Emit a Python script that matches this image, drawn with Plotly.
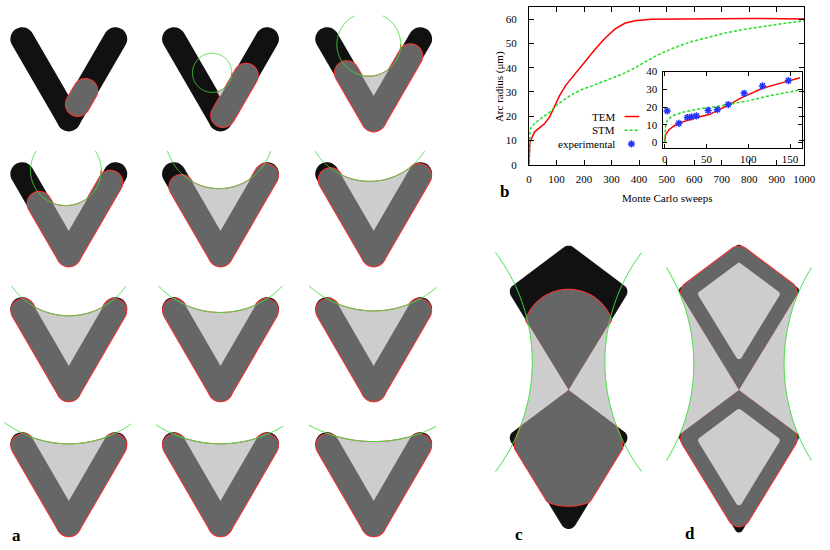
import numpy as np
import plotly.graph_objects as go

# ---------------- panel b: arc radius vs Monte Carlo sweeps ----------------
tem_x = [0, 1, 3, 10, 20, 40, 57, 75, 93, 111, 134, 170, 206, 241, 277, 313, 348, 384, 444, 527, 650, 800, 1000]
tem_y = [0, 5, 9, 11, 13.5, 15.4, 17, 19.7, 23.8, 28.5, 32.8, 37.9, 43, 47.7, 52.2, 56, 58.3, 59.3, 59.9, 60, 60.2, 60.3, 60]

stm_x = [0, 1, 3.6, 9.5, 27, 51, 75, 99, 122, 158, 194, 229, 277, 336, 372, 420, 467, 527, 586, 646, 705, 776, 848, 919, 990, 1000]
stm_y = [0, 8, 14.4, 15.7, 17.7, 19.7, 21.7, 24.4, 26.4, 29.1, 31.1, 32.5, 34.5, 37.2, 39.2, 42.3, 45.2, 48.2, 50.6, 52.3, 54.1, 55.7, 57, 58.1, 59.2, 59.4]

# inset (first 160 sweeps)
tem_in_x = [0, 0.4, 1.2, 5, 11, 18.8, 30.6, 42, 54, 66, 77.6, 89, 101, 117, 140, 162]
tem_in_y = [0, 2.5, 4.4, 7.1, 9.3, 11.2, 13, 14.5, 15.9, 18.5, 21.4, 24.6, 27.3, 30.6, 33.6, 36.5]
stm_in_x = [0, 0.3, 1, 3, 11, 22.7, 42, 62, 81.5, 101, 121, 140, 160]
stm_in_y = [0, 5, 9, 12.6, 15.4, 17.2, 19, 20.3, 21.8, 23.6, 25.9, 27.7, 29.5]
exp_x = [3, 17, 27, 32, 38, 52, 63, 76, 95, 117, 148]
exp_y = [17.8, 10.8, 14.1, 14.5, 15.0, 18.1, 18.5, 21.4, 27.7, 31.9, 34.9]

legend_names = ["TEM", "STM", "experimental"]

# ---------------- panel a: 12 snapshots of the V ----------------
col_x = [67, 221.5, 377.5]
row_y = [116, 254, 392, 530]
wet_left = [(0, 0), (0, 0), (0, 55), (0, 60), (0, 80), (0, 88),
            (0, 93), (0, 93), (0, 93), (0, 93), (0, 93), (0, 93)]
wet_right = [(18, 34), (5, 52), (0, 75), (0, 85), (0, 93), (0, 93),
             (0, 93), (0, 93), (0, 93), (0, 93), (0, 93), (0, 93)]
men_dx = [np.nan, -8.5, -5, -3, -1.5, -4, 0, 0, 0, 0, 0, 0]
men_dy = [np.nan, -47.7, -76.8, -86, -122.3, -140.4, -146.3, -166.1, -177.8, -191.4, -203.1, -222.7]
men_r = [np.nan, 20, 32.5, 36, 55, 65.7, 71, 87.4, 97.5, 109, 120.7, 138]

# ---------------- panels c, d: double kite ----------------
kite_cx = {"c": 576, "d": 749.5}
kite_tops = [243, 392.5]
arc_off = {"c": 223, "d": 235}
arc_cy = {"c": 364, "d": 366}
arc_r = {"c": 186, "d": 189}

W, H = 830, 550
SERIF = "Liberation Serif, DejaVu Serif, serif"
BLACK, DARK, LIGHT = "#111111", "#666666", "#cdcdcd"
RED, GREEN = "#ff3030", "#3fe03f"

ARM_LEN, ARM_HALF, HALF = 95, 12, np.radians(30)
KW, KU, KH = 62.5, 47, 149.5

shapes = []


def path(pts, close=True):
    s = "M " + " L ".join(f"{x:.2f},{y:.2f}" for x, y in pts)
    return s + (" Z" if close else "")


def add(pts, fill=None, line=None, lw=0, close=True):
    shapes.append(dict(type="path", xref="x2", yref="y2", layer="above",
                       path=path(pts, close),
                       fillcolor=fill if fill else "rgba(0,0,0,0)",
                       line=dict(color=line if line else "rgba(0,0,0,0)", width=lw)))


def add_segments(segs, color, lw):
    d = " ".join(path(s, False) for s in segs if len(s) > 1)
    if d:
        shapes.append(dict(type="path", xref="x2", yref="y2", layer="above", path=d,
                           line=dict(color=color, width=lw)))


def capsule(p0, p1, r, n=20):
    p0 = np.asarray(p0, float); p1 = np.asarray(p1, float)
    u = p1 - p0
    u = u / np.hypot(*u)
    v = np.array([-u[1], u[0]])
    s = np.linspace(0, np.pi, n)
    a = p1 + r * (np.outer(np.cos(s), v) + np.outer(np.sin(s), u))
    b = p0 + r * (np.outer(-np.cos(s), v) - np.outer(np.sin(s), u))
    return np.vstack([a, b])


def rounded_poly(pts, radii, n=10):
    pts = np.asarray(pts, float)
    m = len(pts)
    radii = np.broadcast_to(np.asarray(radii, float), (m,))
    out = []
    for i in range(m):
        p, r = pts[i], radii[i]
        if r <= 0:
            out.append(p)
            continue
        a = pts[i - 1] - p; a /= np.linalg.norm(a)
        b = pts[(i + 1) % m] - p; b /= np.linalg.norm(b)
        ang = np.arccos(np.clip(a @ b, -1, 1))
        bis = (a + b) / np.linalg.norm(a + b)
        c = p + bis * r / np.sin(ang / 2)
        t1 = p + a * r / np.tan(ang / 2)
        t2 = p + b * r / np.tan(ang / 2)
        a1 = np.arctan2(t1[1] - c[1], t1[0] - c[0])
        a2 = np.arctan2(t2[1] - c[1], t2[0] - c[0])
        diff = (a2 - a1 + np.pi) % (2 * np.pi) - np.pi
        for s in np.linspace(0, 1, n):
            out.append(c + r * np.array([np.cos(a1 + diff * s), np.sin(a1 + diff * s)]))
    return np.array(out)


def offset_convex(pts, t):
    pts = np.asarray(pts, float)
    c = pts.mean(0)
    m = len(pts)
    lines = []
    for i in range(m):
        p, q = pts[i], pts[(i + 1) % m]
        d = q - p
        nrm = np.array([-d[1], d[0]]) / np.linalg.norm(d)
        if (c - p) @ nrm < 0:
            nrm = -nrm
        lines.append((p + nrm * t, d))
    new = []
    for i in range(m):
        (p1, d1), (p2, d2) = lines[i - 1], lines[i]
        A = np.array([d1, -d2]).T
        a, _ = np.linalg.solve(A, p2 - p1)
        new.append(p1 + a * d1)
    return np.array(new)


def ray_dist(poly, c, d):
    best = np.inf
    m = len(poly)
    for i in range(m):
        p, q = poly[i], poly[(i + 1) % m]
        e = q - p
        M = np.array([[d[0], -e[0]], [d[1], -e[1]]])
        if abs(np.linalg.det(M)) < 1e-12:
            continue
        s, u = np.linalg.solve(M, p - c)
        if s > 0 and -1e-9 <= u <= 1 + 1e-9:
            best = min(best, s)
    return best


def blob(c, poly, r, up, cone=None):
    # drop seen from its centre: a disk on one side, the substrate on the other
    c = np.asarray(c, float)
    pts = []
    for t in np.linspace(0, 2 * np.pi, 240, endpoint=False):
        d = np.array([np.cos(t), np.sin(t)])
        s = ray_dist(poly, c, d)
        if (d[1] < 0) == up:
            s = min(s, r)
        elif cone is not None:
            if np.degrees(np.arccos(abs(d[1]))) < cone:
                s = max(s, r)
            else:
                s = min(s, r)
        pts.append(c + s * d)
    return np.array(pts)


def circle_segments(cx, cy, r, box):
    th = np.linspace(0, 2 * np.pi, 721)
    x = cx + r * np.cos(th); y = cy + r * np.sin(th)
    inside = (x >= box[0]) & (x <= box[1]) & (y >= box[2]) & (y <= box[3])
    segs, cur = [], []
    for xi, yi, ok in zip(x, y, inside):
        if ok:
            cur.append((xi, yi))
        elif cur:
            segs.append(cur); cur = []
    if cur:
        if segs and inside[0]:
            segs[0] = cur + segs[0]
        else:
            segs.append(cur)
    return segs


def arm_point(cx, vy, side, t):
    return (cx + side * t * np.sin(HALF), vy - t * np.cos(HALF))


# ---- panel a drawing ----
for k in range(12):
    cx, vy = col_x[k % 3], row_y[k // 3]
    v = (cx, vy)
    arms = [capsule(v, arm_point(cx, vy, s, ARM_LEN), ARM_HALF) for s in (-1, 1)]
    for a in arms:
        add(a, fill=BLACK)
    wet = []
    for side, (t0, t1) in ((-1, wet_left[k]), (1, wet_right[k])):
        if t1 > t0:
            wet.append(capsule(arm_point(cx, vy, side, t0), arm_point(cx, vy, side, t1), ARM_HALF))
    for w in wet:
        add(w, fill=DARK, line=RED, lw=2)
    if not np.isnan(men_r[k]):
        mcx, mcy, R = cx + men_dx[k], vy + men_dy[k], men_r[k]
        vi = vy - 11 / np.sin(HALF)
        xs = np.linspace(mcx - R + 1e-6, mcx + R - 1e-6, 400)
        top = mcy + np.sqrt(R ** 2 - (xs - mcx) ** 2)
        bot = vi - np.abs(xs - cx) / np.tan(HALF)
        ok = (top < bot) & (np.abs(xs - cx) <= ARM_LEN * np.sin(HALF))
        if ok.sum() > 2:
            pts = list(zip(xs[ok], top[ok])) + list(zip(xs[ok][::-1], bot[ok][::-1]))
            add(pts, fill=LIGHT, line=RED, lw=1)
    for w in wet:
        add(w, fill=DARK)
    if not np.isnan(men_r[k]):
        box = (cx - 66, cx + 64, vy - 106, vy + 16)
        add_segments(circle_segments(mcx, mcy, R, box), GREEN, 1)


# ---- panels c and d ----
def kite(cx, top):
    return np.array([[cx, top], [cx + KW, top + KU], [cx, top + KH], [cx - KW, top + KU]])


def kite_hw(y, top):
    rel = y - top
    hw = np.where(rel <= KU, KW * rel / KU, KW * (KH - rel) / (KH - KU))
    return np.where((rel >= 0) & (rel <= KH), hw, 0)


def notch(p):
    cx = kite_cx[p]
    ys = np.linspace(kite_tops[0] + KU, kite_tops[1] + KU, 400)
    acx, acy, R = cx - arc_off[p], arc_cy[p], arc_r[p]
    xa = acx + np.sqrt(np.clip(R ** 2 - (ys - acy) ** 2, 0, None))
    xk = cx - np.maximum(kite_hw(ys, kite_tops[0]), kite_hw(ys, kite_tops[1]))
    ok = xa < xk
    left = list(zip(xa[ok], ys[ok])) + list(zip(xk[ok][::-1], ys[ok][::-1]))
    right = [(2 * cx - x, y) for x, y in left]
    return left, right


def green_arcs(p):
    cx = kite_cx[p]
    box = (cx - 74.5, cx + 74.5, 200, 500)
    segs = circle_segments(cx - arc_off[p], arc_cy[p], arc_r[p], box)
    segs += circle_segments(cx + arc_off[p], arc_cy[p], arc_r[p], box)
    add_segments(segs, GREEN, 1)


def corner_radii(r, i):
    # the vertex touching the waist stays sharp
    rr = [r, r, r, r]
    rr[2 if i == 0 else 0] = 0
    return rr


# c: solid kites, wetted blobs
cx = kite_cx["c"]
black_c = [rounded_poly(kite(cx, t), corner_radii(8, i)) for i, t in enumerate(kite_tops)]
for kp in black_c:
    add(kp, fill=BLACK)
blobs = [blob((cx, 336), black_c[0], 46, True),
         blob((cx, 456), black_c[1], 55, False, cone=40)]
for b in blobs:
    add(b, fill=DARK, line=RED, lw=2)
for b in blobs:
    add(b, fill=DARK)
for n_ in notch("c"):
    add(n_, fill=LIGHT)
green_arcs("c")

# d: kite frames
cx = kite_cx["d"]
for i, t in enumerate(kite_tops):
    add(rounded_poly(kite(cx, t), corner_radii(4, i)), fill=BLACK)
outer_d = [rounded_poly(kite(cx, t), corner_radii(11, i)) for i, t in enumerate(kite_tops)]
for o in outer_d:
    add(o, fill=DARK, line=RED, lw=2)
for o in outer_d:
    add(o, fill=DARK)
for n_ in notch("d"):
    add(n_, fill=LIGHT)
for t in kite_tops:
    add(rounded_poly(offset_convex(kite(cx, t), 15), 3), fill=LIGHT)
green_arcs("d")

# ---------------- figure ----------------
fig = go.Figure()
fig.add_trace(go.Scatter(x=tem_x, y=tem_y, mode="lines", line=dict(color="#ff0000", width=1.5),
                         xaxis="x", yaxis="y", showlegend=False))
fig.add_trace(go.Scatter(x=stm_x, y=stm_y, mode="lines", line=dict(color="#22dd22", width=1.5, dash="3px,2px"),
                         xaxis="x", yaxis="y", showlegend=False))
fig.add_trace(go.Scatter(x=tem_in_x, y=tem_in_y, mode="lines", line=dict(color="#ff0000", width=1.5),
                         xaxis="x3", yaxis="y3", showlegend=False))
fig.add_trace(go.Scatter(x=stm_in_x, y=stm_in_y, mode="lines", line=dict(color="#22dd22", width=1.5, dash="3px,2px"),
                         xaxis="x3", yaxis="y3", showlegend=False))
fig.add_trace(go.Scatter(x=exp_x, y=exp_y, mode="markers",
                         marker=dict(symbol="asterisk-open", size=6, color="#2233ff", line=dict(color="#2233ff", width=1.5)),
                         xaxis="x3", yaxis="y3", showlegend=False))

tickfont = dict(family=SERIF, size=11, color="black")
frame = dict(showline=True, linecolor="black", linewidth=1, mirror="allticks", ticks="inside",
             tickcolor="black", showgrid=False, zeroline=False, tickfont=tickfont)

fig.update_layout(
    width=W, height=H, autosize=False, margin=dict(l=0, r=0, t=0, b=0, pad=0),
    paper_bgcolor="white", plot_bgcolor="rgba(0,0,0,0)",
    xaxis=dict(domain=[535.7 / W, 816 / W], range=[0, 1000], dtick=100, anchor="y", ticklen=5,
               ticklabelstandoff=4, **frame),
    yaxis=dict(domain=[1 - 162.3 / H, 1 - 1 / H], range=[0, 65], dtick=10, anchor="x", ticklen=5,
               ticklabelstandoff=9, **frame),
    xaxis3=dict(domain=[671.7 / W, 813.5 / W], range=[-2.5, 164], tickvals=[0, 50, 100, 150], anchor="y3",
                ticklen=4, ticklabelstandoff=1, **frame),
    yaxis3=dict(domain=[1 - 145 / H, 1 - 67 / H], range=[-3, 40], dtick=10, anchor="x3", ticklen=4,
                ticklabelstandoff=2, **frame),
    xaxis2=dict(domain=[0, 1], range=[0, W], visible=False, anchor="y2", fixedrange=True),
    yaxis2=dict(domain=[0, 1], range=[H, 0], visible=False, anchor="x2", fixedrange=True),
    shapes=shapes,
)

ann = [
    dict(text="Arc radius (μm)", x=505 / W, y=1 - 82 / H, textangle=-90, font=dict(size=11)),
    dict(text="Monte Carlo sweeps", x=676 / W, y=1 - 196 / H, font=dict(size=11)),
    dict(text="<b>b</b>", x=511 / W, y=1 - 190 / H, font=dict(size=17)),
    dict(text="<b>a</b>", x=14 / W, y=1 - 541 / H, font=dict(size=17)),
    dict(text="<b>c</b>", x=525 / W, y=1 - 540 / H, font=dict(size=17)),
    dict(text="<b>d</b>", x=700 / W, y=1 - 539 / H, font=dict(size=17)),
]
leg_y = [113, 127, 141]
for name, yy in zip(legend_names, leg_y):
    ann.append(dict(text=name, x=625 / W, y=1 - yy / H, xanchor="right", font=dict(size=11)))
for a in ann:
    a.setdefault("xanchor", "center")
    a.update(xref="paper", yref="paper", yanchor="middle", showarrow=False)
    a["font"].update(family=SERIF, color="black")
    fig.add_annotation(**a)

# legend samples
fig.add_shape(type="line", xref="paper", yref="paper", x0=633 / W, x1=648 / W, y0=1 - 113 / H, y1=1 - 113 / H,
              line=dict(color="#ff0000", width=1.5))
fig.add_shape(type="line", xref="paper", yref="paper", x0=633 / W, x1=648 / W, y0=1 - 127 / H, y1=1 - 127 / H,
              line=dict(color="#22dd22", width=1.5, dash="3px,2px"))
fig.add_trace(go.Scatter(x=[640], y=[141], mode="markers", xaxis="x2", yaxis="y2", showlegend=False,
                         marker=dict(symbol="asterisk-open", size=6, color="#2233ff", line=dict(color="#2233ff", width=1.5))))

fig.write_html("out.html", config={"responsive": False, "displayModeBar": False},
               post_script="document.body.style.margin='0px';document.body.style.overflow='hidden';")
